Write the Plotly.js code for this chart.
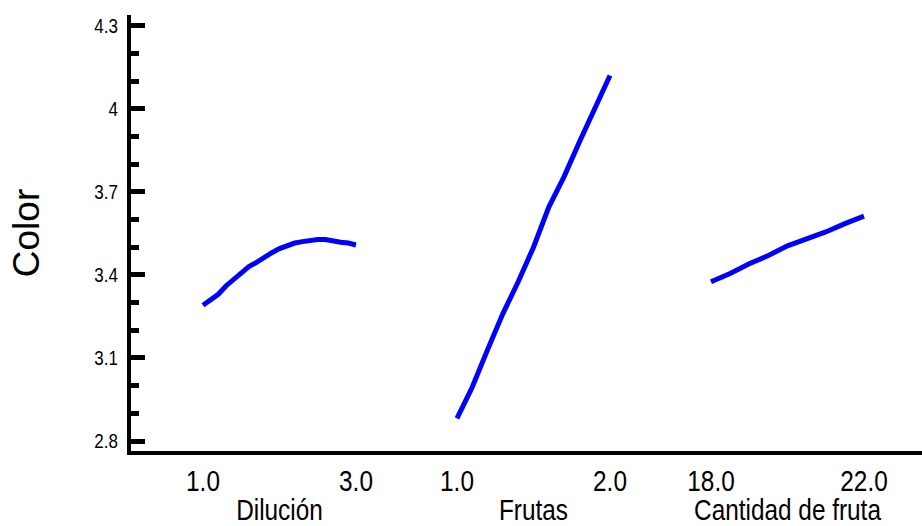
<!DOCTYPE html>
<html>
<head>
<meta charset="utf-8">
<script src="https://cdn.plot.ly/plotly-3.0.1.min.js"></script>
<style>html,body{margin:0;padding:0;background:#fff;}#chart{width:922px;height:526px;}</style>
</head>
<body>
<div id="chart"></div>
<script>
// ---- data ----
const dilucionX = [1.0,1.1,1.2,1.3,1.4,1.5,1.6,1.7,1.8,1.9,2.0,2.1,2.2,2.3,2.4,2.5,2.6,2.7,2.8,2.9,3.0];
const dilucionY = [3.29,3.31,3.33,3.36,3.385,3.41,3.43,3.445,3.465,3.48,3.495,3.505,3.515,3.52,3.525,3.528,3.528,3.522,3.518,3.515,3.508];
const frutasX = [1.0,1.1,1.2,1.3,1.4,1.5,1.6,1.7,1.8,1.9,2.0];
const frutasY = [2.882,2.995,3.13,3.26,3.375,3.50,3.645,3.755,3.88,4.00,4.12];
const cantidadX = [18.0,18.5,19.0,19.5,20.0,20.5,21.0,21.5,22.0];
const cantidadY = [3.375,3.405,3.44,3.47,3.505,3.53,3.555,3.585,3.612];
const factorNames = ['Dilución','Frutas','Cantidad de fruta'];
const factorTicks = [[1,3],[1,2],[18,22]];
const factorTickText = [['1.0','3.0'],['1.0','2.0'],['18.0','22.0']];
const yTickVals = [2.8,3.1,3.4,3.7,4.0,4.3];
const yTickText = ['2.8','3.1','3.4','3.7','4','4.3'];
const yMinorVals = [2.9,3.0,3.2,3.3,3.5,3.6,3.8,3.9,4.1,4.2];
const yAxisTitle = 'Color';

// ---- layout helpers ----
const W = 922, H = 526, L = 131, R = 0, T = 15, B = 75;
const PW = W - L - R;
function seg(pxLo, pxHi, vLo, vHi) {
  const pad = 5;
  const k = (vHi - vLo) / (pxHi - pxLo);
  return { domain: [(pxLo - pad - L) / PW, (pxHi + pad - L) / PW], range: [vLo - pad * k, vHi + pad * k] };
}
const segPx = [[203, 356], [457, 610], [711, 864]];
const sans = '"Liberation Sans", Arial, sans-serif';

const xs = [dilucionX, frutasX, cantidadX];
const ys = [dilucionY, frutasY, cantidadY];
const traces = xs.map((x, i) => ({
  x: x, y: ys[i], type: 'scatter', mode: 'lines',
  xaxis: 'x' + (i + 2), yaxis: 'y',
  line: { color: '#0000FF', width: 5 },
  hoverinfo: 'skip', cliponaxis: false
}));
// empty trace so that the frame subplot (x, y) exists and draws its axis lines
traces.unshift({ x: [], y: [], type: 'scatter', mode: 'lines', xaxis: 'x', yaxis: 'y', hoverinfo: 'skip' });

const layout = {
  width: W, height: H,
  margin: { l: L, r: R, t: T, b: B, pad: 0 },
  paper_bgcolor: '#ffffff', plot_bgcolor: '#ffffff',
  showlegend: false,
  xaxis: { domain: [0, 1], range: [0, 1], anchor: 'y', showline: true, linewidth: 4, linecolor: '#000',
           showticklabels: false, ticks: '', showgrid: false, zeroline: false, fixedrange: true },
  yaxis: {
    anchor: 'x',
    range: [2.7639, 4.3386], showline: true, linewidth: 4, linecolor: '#000',
    tickmode: 'array', tickvals: yTickVals, ticktext: yTickText,
    ticks: 'inside', ticklen: 14, tickwidth: 5, tickcolor: '#000',
    minor: { tickmode: 'array', tickvals: yMinorVals, ticks: 'inside', ticklen: 8, tickwidth: 5, tickcolor: '#000', showgrid: false },
    showgrid: false, zeroline: false, fixedrange: true,
    tickfont: { family: sans, size: 20, color: '#000' },
    ticklabelstandoff: 5,
    title: { text: yAxisTitle, font: { family: sans, size: 37, color: '#000' }, standoff: 40 }
  },
  font: { family: sans, color: '#000' }
};

factorNames.forEach((name, i) => {
  const s = seg(segPx[i][0], segPx[i][1], factorTicks[i][0], factorTicks[i][1]);
  layout['xaxis' + (i + 2)] = {
    domain: s.domain, range: s.range, anchor: 'y',
    tickmode: 'array', tickvals: factorTicks[i], ticktext: factorTickText[i],
    showline: false, showgrid: false, zeroline: false, ticks: '',
    ticklabelstandoff: 10, fixedrange: true,
    tickfont: { family: sans, size: 29, color: '#000' },
    title: { text: name, font: { family: sans, size: 29, color: '#000' }, standoff: 6 }
  };
});

// the original labels are drawn in a condensed face; squeeze the glyphs horizontally
function squeeze(selector, f) {
  document.querySelectorAll(selector).forEach(t => {
    const len = t.getComputedTextLength();
    if (len > 0) {
      t.setAttribute('textLength', (len * f).toFixed(2));
      t.setAttribute('lengthAdjust', 'spacingAndGlyphs');
    }
  });
}

Plotly.newPlot('chart', traces, layout, { displayModeBar: false, staticPlot: true }).then(() => {
  squeeze('#chart .xaxislayer-above text', 0.84);
  squeeze('#chart .yaxislayer-above text', 0.85);
  squeeze('#chart .g-x2title text, #chart .g-x3title text, #chart .g-x4title text', 0.84);
});
</script>
</body>
</html>
